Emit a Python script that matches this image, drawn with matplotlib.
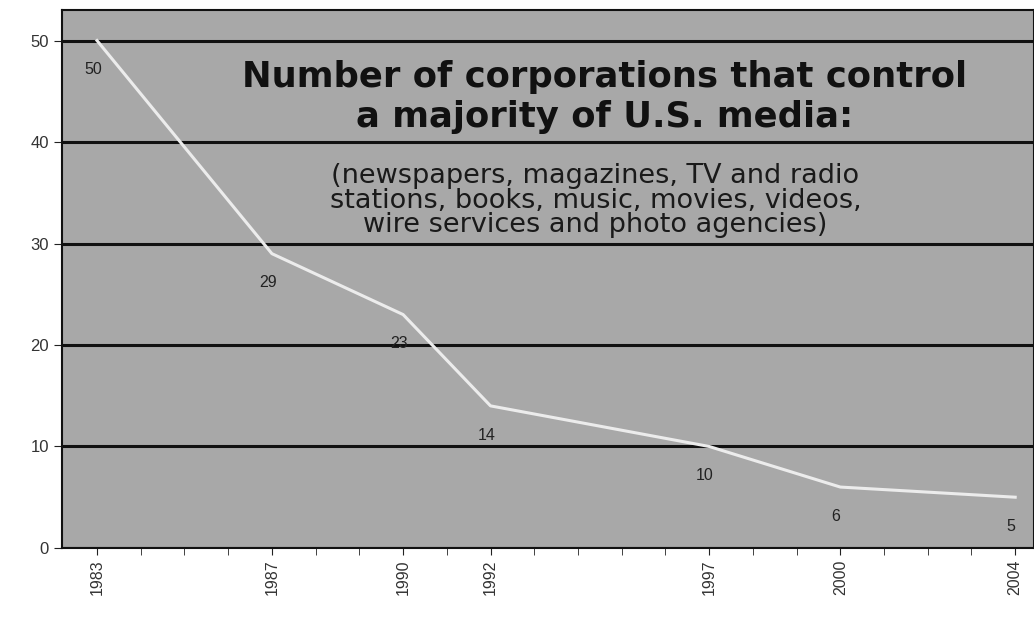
import numpy as np
import matplotlib
matplotlib.use('Agg')
import matplotlib.pyplot as plt

# data
years = [1983, 1987, 1990, 1992, 1997, 2000, 2004]
corporations = [50, 29, 23, 14, 10, 6, 5]
year_labels = ['1983', '1987', '1990', '1992', '1997', '2000', '2004']
y_ticks = [0, 10, 20, 30, 40, 50]

title_text = 'Number of corporations that control\na majority of U.S. media:'
sub_text = ('(newspapers, magazines, TV and radio\n'
            'stations, books, music, movies, videos,\n'
            'wire services and photo agencies)')

plt.rcParams['font.family'] = ['Liberation Sans', 'DejaVu Sans']

fig = plt.figure(figsize=(10.34, 6.32), dpi=100)
fig.patch.set_facecolor('white')
ax = fig.add_axes([0.06, 0.133, 0.94, 0.851])
ax.set_facecolor('#a8a8a8')

# grid lines (black, like the scan)
for v in y_ticks:
    ax.axhline(v, color='#111111', lw=2.2, zorder=1)

ax.plot(years, corporations, color='#ececec', lw=2.2, zorder=3)
for x, y in zip(years, corporations):
    ax.annotate(str(y), (x, y), xytext=(-3, -21), textcoords='offset points',
                ha='center', va='center', fontsize=11.5, color='#222222', zorder=4)

# big heading inside the plot
ax.text(1994.6, 44.4, title_text, ha='center', va='center', fontsize=25.5,
        fontweight='bold', family='DejaVu Sans', color='#111111',
        linespacing=1.22, zorder=4)
ax.text(1994.4, 34.2, sub_text, ha='center', va='center', fontsize=19.5,
        family='DejaVu Sans', color='#1a1a1a', linespacing=0.93, zorder=4)

ax.set_xlim(1982.2, 2004.43)
ax.set_ylim(0, 53)
ax.set_yticks(y_ticks)
ax.set_yticklabels([str(v) for v in y_ticks], fontsize=12, color='#333333')
ax.set_xticks(years)
ax.set_xticklabels(year_labels, rotation=90, fontsize=11.5, color='#333333')
ax.set_xticks(np.arange(1983, 2005), minor=True)
ax.tick_params(axis='x', which='both', length=5, color='#222222')
ax.tick_params(axis='y', length=6, color='#222222')

for s in ax.spines.values():
    s.set_color('#111111')
    s.set_linewidth(1.5)

fig.savefig('out.png', dpi=100)
